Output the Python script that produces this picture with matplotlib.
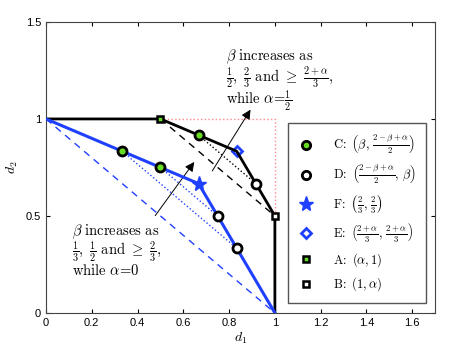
import matplotlib
matplotlib.use("Agg")
import matplotlib.pyplot as plt
from matplotlib.lines import Line2D

plt.rcParams["font.family"] = ["Liberation Sans", "DejaVu Sans"]
plt.rcParams["mathtext.fontset"] = "cm"

# boundary alpha = 1/2 (black) and alpha = 0 (blue)
black_x = [0, 0.5, 5 / 6, 1, 1]
black_y = [1, 1, 5 / 6, 0.5, 0]
blue_x = [0, 2 / 3, 1]
blue_y = [1, 2 / 3, 0]

# C and D points
c_black = ([2 / 3], [11 / 12])
d_black = ([11 / 12], [2 / 3])
c_blue = ([1 / 3, 0.5], [5 / 6, 0.75])
d_blue = ([5 / 6, 0.75], [1 / 3, 0.5])

point_a = (0.5, 1)
point_b = (1, 0.5)
point_e = (5 / 6, 5 / 6)
point_f = (2 / 3, 2 / 3)

BLUE = "#2040ff"
GREEN = "#66dd22"

fig = plt.figure(figsize=(4.74, 3.54), dpi=100)
ax = fig.add_axes([0.097, 0.116, 0.821, 0.822])

# guide lines
ax.plot([0.5, 1, 1], [1, 1, 0.5], ":", color="#ff8888", lw=1)
ax.plot([0.5, 1], [1, 0.5], "--", color="k", lw=1, dashes=(5, 4))
ax.plot([c_black[0][0], d_black[0][0]], [c_black[1][0], d_black[1][0]], ":", color="k", lw=1)
ax.plot([0, 1], [1, 0], "--", color=BLUE, lw=1, dashes=(5, 4))
for i in range(2):
    ax.plot([c_blue[0][i], d_blue[0][i]], [c_blue[1][i], d_blue[1][i]], ":", color=BLUE, lw=1)

ax.plot(*point_e, "D", ms=5.5, mfc="white", mec=BLUE, mew=2, zorder=3)
ax.plot(black_x, black_y, "-", color="k", lw=2, zorder=4)
ax.plot(blue_x, blue_y, "-", color=BLUE, lw=2.2, zorder=4)

circ = dict(ms=6.5, mec="k", mew=2, ls="none", zorder=5)
ax.plot(*c_black, "o", mfc=GREEN, **circ)
ax.plot(*d_black, "o", mfc="white", **circ)
ax.plot(*c_blue, "o", mfc=GREEN, **circ)
ax.plot(*d_blue, "o", mfc="white", **circ)
ax.plot(*point_f, "*", ms=11, color=BLUE, zorder=6)
sq = dict(ms=5, mec="k", mew=1.8, zorder=6)
ax.plot(*point_a, "s", mfc=GREEN, **sq)
ax.plot(*point_b, "s", mfc="white", **sq)

arrow = dict(arrowstyle="-|>", color="k", lw=0.7, mutation_scale=14)
ax.annotate("", xy=(0.655, 0.79), xytext=(0.47, 0.49), arrowprops=arrow)
ax.annotate("", xy=(0.90, 1.06), xytext=(0.72, 0.72), arrowprops=arrow)

ax.text(0.115, 0.465,
        r"$\beta\ \mathrm{increases\ as}$" "\n"
        r"$\frac{1}{3},\ \frac{1}{2}\ \mathrm{and}\ \geq\ \frac{2}{3},$" "\n"
        r"$\mathrm{while}\ \alpha\!=\!0$",
        fontsize=10.5, va="top", ha="left", linespacing=0.9)
ax.text(0.785, 1.37,
        r"$\beta\ \mathrm{increases\ as}$" "\n"
        r"$\frac{1}{2},\ \frac{2}{3}\ \mathrm{and}\ \geq\ \frac{2+\alpha}{3},$" "\n"
        r"$\mathrm{while}\ \alpha\!=\!\frac{1}{2}$",
        fontsize=10.5, va="top", ha="left", linespacing=0.9)

handles = [
    Line2D([], [], marker="o", ls="none", ms=6, mfc=GREEN, mec="k", mew=2),
    Line2D([], [], marker="o", ls="none", ms=6, mfc="white", mec="k", mew=2),
    Line2D([], [], marker="*", ls="none", ms=11, color=BLUE),
    Line2D([], [], marker="D", ls="none", ms=5.5, mfc="white", mec=BLUE, mew=2),
    Line2D([], [], marker="s", ls="none", ms=5, mfc=GREEN, mec="k", mew=1.8),
    Line2D([], [], marker="s", ls="none", ms=5, mfc="white", mec="k", mew=1.8),
]
labels = [
    r"$\mathrm{C\!:}\ \left(\beta,\, \frac{2-\beta+\alpha}{2}\right)$",
    r"$\mathrm{D\!:}\ \left(\frac{2-\beta+\alpha}{2},\, \beta\right)$",
    r"$\mathrm{F\!:}\ \left(\frac{2}{3},\, \frac{2}{3}\right)$",
    r"$\mathrm{E\!:}\ \left(\frac{2+\alpha}{3},\, \frac{2+\alpha}{3}\right)$",
    r"$\mathrm{A\!:}\ (\alpha, 1)$",
    r"$\mathrm{B\!:}\ (1, \alpha)$",
]
leg = ax.legend(handles, labels, loc="upper left", bbox_to_anchor=(0.608, 0.653),
                bbox_transform=fig.transFigure, borderaxespad=0, fontsize=9,
                fancybox=False, framealpha=1, edgecolor="#555555",
                labelspacing=0.55, handlelength=1.2, handletextpad=1.6, borderpad=0.8)
leg.get_frame().set_linewidth(1)

ax.set_xlim(0, 1.7)
ax.set_ylim(0, 1.5)
ax.set_xticks([0, 0.2, 0.4, 0.6, 0.8, 1, 1.2, 1.4, 1.6])
ax.set_xticklabels(["0", "0.2", "0.4", "0.6", "0.8", "1", "1.2", "1.4", "1.6"])
ax.set_yticks([0, 0.5, 1, 1.5])
ax.set_yticklabels(["0", "0.5", "1", "1.5"])
ax.tick_params(direction="in", top=True, right=True, labelsize=8, length=3)
ax.set_xlabel(r"$d_1$", fontsize=10, labelpad=2)
ax.set_ylabel(r"$d_2$", fontsize=10, labelpad=4)
for s in ax.spines.values():
    s.set_color("#444444")

fig.savefig("out.png", dpi=100)
